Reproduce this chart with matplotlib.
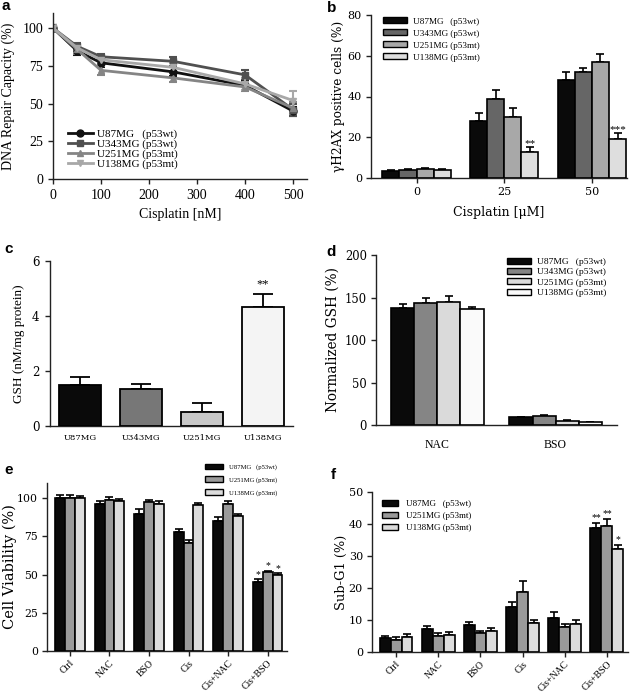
import matplotlib
matplotlib.use("Agg")
import matplotlib.pyplot as plt
import numpy as np

W, H = 631, 699

# ---------------- data ----------------
# panel a
a_x = [0, 50, 100, 250, 400, 500]
a_u87 = [100, 85, 77, 71, 62, 45]
a_u87_err = [2, 3, 3, 3, 3, 3]
a_u343 = [100, 88, 81, 78, 69, 46]
a_u343_err = [2, 2, 2, 3, 3, 4]
a_u251 = [100, 86, 72, 67, 61, 47]
a_u251_err = [2, 3, 3, 3, 3, 4]
a_u138 = [100, 87, 79, 74, 63, 52]
a_u138_err = [2, 2, 3, 3, 4, 6]
a_labels = ["U87MG   (p53wt)", "U343MG (p53wt)", "U251MG (p53mt)", "U138MG (p53mt)"]

# panel b
b_groups = ["0", "25", "50"]
b_u87 = [3.5, 28, 48]
b_u87_err = [0.5, 4, 4]
b_u343 = [4, 39, 52]
b_u343_err = [0.5, 4, 2]
b_u251 = [4.5, 30, 57]
b_u251_err = [0.5, 4.5, 4]
b_u138 = [4, 13, 19]
b_u138_err = [0.5, 2, 3.2]
b_stars = ["", "**", "***"]

# panel c
c_cells = ["U87MG", "U343MG", "U251MG", "U138MG"]
c_gsh = [1.5, 1.35, 0.5, 4.33]
c_err = [0.3, 0.18, 0.32, 0.47]
c_stars = ["", "", "", "**"]

# panel d
d_groups = ["NAC", "BSO"]
d_u87 = [138, 9.5]
d_u87_err = [4, 0.5]
d_u343 = [143, 11]
d_u343_err = [7, 0.6]
d_u251 = [145, 5]
d_u251_err = [6.5, 1]
d_u138 = [137, 3.5]
d_u138_err = [1.5, 0.3]

# panel e
ef_treat = ["Ctrl", "NAC", "BSO", "Cis", "Cis+NAC", "Cis+BSO"]
ef_labels = ["U87MG   (p53wt)", "U251MG (p53mt)", "U138MG (p53mt)"]
e_u87 = [100, 96, 90, 78, 85, 45.5]
e_u87_err = [2, 2.5, 3, 2, 3, 1.5]
e_u251 = [100, 99, 97.5, 71, 96, 51.5]
e_u251_err = [2, 2, 1.5, 2, 2, 1]
e_u138 = [100, 98.5, 96.5, 95.5, 88.5, 49.5]
e_u138_err = [1.5, 1, 1.5, 1.5, 1.5, 1.5]
e_stars = [["", "", "", "", "", "*"]] * 3

# panel f
f_u87 = [4.3, 7.3, 8.3, 14.1, 10.5, 38.7]
f_u87_err = [0.6, 0.8, 1.0, 1.4, 2.0, 1.6]
f_u251 = [3.8, 5.0, 5.8, 18.9, 7.9, 39.5]
f_u251_err = [0.8, 0.8, 0.8, 3.2, 0.8, 2.0]
f_u138 = [4.8, 5.4, 6.6, 9.1, 8.6, 32.3]
f_u138_err = [0.8, 0.8, 0.8, 0.8, 1.4, 1.2]
f_stars = [["", "", "", "", "", "**"], ["", "", "", "", "", "**"], ["", "", "", "", "", "*"]]

SERIF_A = "Liberation Serif"
SERIF = "DejaVu Serif"

fig = plt.figure(figsize=(W / 100, H / 100), dpi=100)


def add_ax(l, r, t, b):
    return fig.add_axes([l / W, (H - b) / H, (r - l) / W, (b - t) / H])


def style(ax, fam, tsize, pad=2):
    for s in ["top", "right"]:
        ax.spines[s].set_visible(False)
    for s in ["left", "bottom"]:
        ax.spines[s].set_linewidth(1.0)
        ax.spines[s].set_color("#222222")
    ax.tick_params(direction="out", length=3.5, width=1.0, color="#222222",
                   labelsize=tsize, pad=pad)
    for lab in ax.get_xticklabels() + ax.get_yticklabels():
        lab.set_family(fam)


def panel_letter(x, y, s):
    fig.text(x / W, 1 - y / H, s, fontsize=11, fontweight="bold",
             family="Liberation Sans", va="center", ha="left")


def grouped(ax, series, errs, colors, width, ncat, stars=None, star_fs=7,
            star_off=1.0, lw=1.2):
    n = len(series)
    xs = np.arange(ncat)
    for i, (vals, er, c) in enumerate(zip(series, errs, colors)):
        pos = xs + (i - (n - 1) / 2) * width
        ax.bar(pos, vals, width=width, color=c, edgecolor="black",
               linewidth=lw, zorder=3)
        ax.errorbar(pos, vals, yerr=[np.zeros(len(vals)), er], fmt="none",
                    ecolor="black", elinewidth=lw, capsize=3, capthick=lw,
                    zorder=2)
        if stars is not None:
            for p, v, e, s in zip(pos, vals, er, stars[i]):
                if s:
                    ax.text(p, v + e + star_off, s, ha="center", va="bottom",
                            fontsize=star_fs, family=SERIF_A)
    return xs


# ---------------- panel a ----------------
ax = add_ax(53, 307, 13, 179)
a_series = [(a_u87, a_u87_err, "#111111", "o"),
            (a_u343, a_u343_err, "#505050", "s"),
            (a_u251, a_u251_err, "#858585", "^"),
            (a_u138, a_u138_err, "#a8a8a8", "v")]
a_handles = []
for (ys, er, c, m), lab in zip(a_series, a_labels):
    cont = ax.errorbar(a_x, ys, yerr=er, color=c, marker=m, markersize=5,
                       linewidth=2, elinewidth=1.5, capsize=3, capthick=1.5)
    a_handles.append(cont[0])
ax.set_xlim(0, 529)
ax.set_ylim(0, 110)
ax.set_xticks([0, 100, 200, 300, 400, 500])
ax.set_yticks([0, 25, 50, 75, 100])
style(ax, SERIF_A, 10, pad=3.5)
ax.set_xlabel("Cisplatin [nM]", family=SERIF_A, fontsize=10)
ax.set_ylabel("DNA Repair Capacity (%)", family=SERIF_A, fontsize=10)
ax.xaxis.set_label_coords(0.5, -0.175)
ax.yaxis.set_label_coords(-0.15, 0.5)
ax.legend(a_handles, a_labels, loc="upper left", bbox_to_anchor=(0.06, 0.30),
          frameon=False, prop={"family": SERIF_A, "size": 8}, handlelength=2.2,
          labelspacing=0.0, handletextpad=0.4, borderpad=0, borderaxespad=0)
panel_letter(2, 6, "a")

# ---------------- panel b ----------------
ax = add_ax(371, 627, 15, 178)
b_cols = ["#0a0a0a", "#666666", "#a8a8a8", "#dedede"]
xs = grouped(ax, [b_u87, b_u343, b_u251, b_u138],
             [b_u87_err, b_u343_err, b_u251_err, b_u138_err], b_cols, 0.195, 3,
             stars=[[""] * 3, [""] * 3, [""] * 3, b_stars], star_fs=8,
             star_off=-0.5)
ax.set_xlim(-0.52, 2.4)
ax.set_ylim(0, 80)
ax.set_xticks(xs)
ax.set_xticklabels(b_groups)
ax.set_yticks([0, 20, 40, 60, 80])
style(ax, SERIF, 8, pad=3)
ax.set_xlabel("Cisplatin [\u03bcM]", family=SERIF, fontsize=9)
ax.set_ylabel("\u03b3H2AX positive cells (%)", family=SERIF, fontsize=8.7)
ax.xaxis.set_label_coords(0.5, -0.17)
ax.yaxis.set_label_coords(-0.10, 0.5)
handles = [plt.Rectangle((0, 0), 1, 1, facecolor=c, edgecolor="black", lw=1.0)
           for c in b_cols]
ax.legend(handles, a_labels, loc="upper left", bbox_to_anchor=(0.045, 0.985),
          frameon=False, prop={"family": SERIF_A, "size": 6.6},
          handlelength=2.7, handleheight=0.6, labelspacing=0.42,
          handletextpad=0.6, borderpad=0, borderaxespad=0)
panel_letter(327, 8, "b")

# ---------------- panel c ----------------
ax = add_ax(50, 293, 261, 426)
c_cols = ["#0a0a0a", "#777777", "#c8c8c8", "#f4f4f4"]
xs = np.arange(len(c_cells))
ax.bar(xs, c_gsh, width=0.69, color=c_cols, edgecolor="black", linewidth=1.3,
       zorder=3)
ax.errorbar(xs, c_gsh, yerr=[np.zeros(len(c_gsh)), c_err], fmt="none",
            ecolor="black", elinewidth=1.3, capsize=7, capthick=1.3, zorder=2)
for x, v, e, s in zip(xs, c_gsh, c_err, c_stars):
    if s:
        ax.text(x, v + e + 0.12, s, ha="center", va="bottom", fontsize=9,
                family=SERIF_A)
ax.set_xlim(-0.49, 3.49)
ax.set_ylim(0, 6)
ax.set_xticks(xs)
ax.set_xticklabels(c_cells)
ax.set_yticks([0, 2, 4, 6])
style(ax, SERIF, 8.5, pad=4)
ax.tick_params(axis="x", length=0, labelsize=6, pad=6)
ax.set_ylabel("GSH (nM/mg protein)", family=SERIF_A, fontsize=9.5)
ax.yaxis.set_label_coords(-0.103, 0.5)
panel_letter(4, 249, "c")

# ---------------- panel d ----------------
ax = add_ax(376, 617, 255, 425)
d_cols = ["#0a0a0a", "#858585", "#dadada", "#fafafa"]
xs = grouped(ax, [d_u87, d_u343, d_u251, d_u138],
             [d_u87_err, d_u343_err, d_u251_err, d_u138_err], d_cols, 0.195, 2)
ax.set_xlim(-0.52, 1.52)
ax.set_ylim(0, 200)
ax.set_xticks(xs)
ax.set_xticklabels(d_groups)
ax.set_yticks([0, 50, 100, 150, 200])
style(ax, SERIF, 8.3, pad=3)
ax.tick_params(axis="x", length=0, labelsize=8.5, pad=10)
for lab in ax.get_xticklabels():
    lab.set_family(SERIF_A)
ax.set_ylabel("Normalized GSH (%)", family=SERIF, fontsize=9.8)
ax.yaxis.set_label_coords(-0.149, 0.5)
handles = [plt.Rectangle((0, 0), 1, 1, facecolor=c, edgecolor="black", lw=1.0)
           for c in d_cols]
ax.legend(handles, a_labels, loc="upper left", bbox_to_anchor=(0.545, 0.985),
          frameon=False, prop={"family": SERIF_A, "size": 6.8},
          handlelength=2.5, handleheight=0.6, labelspacing=0.22,
          handletextpad=0.6, borderpad=0, borderaxespad=0)
panel_letter(326, 252, "d")

# ---------------- panel e ----------------
ax = add_ax(47, 287, 483, 651)
ef_cols = ["#0a0a0a", "#9a9a9a", "#dcdcdc"]
xs = grouped(ax, [e_u87, e_u251, e_u138], [e_u87_err, e_u251_err, e_u138_err],
             ef_cols, 0.25, 6, stars=e_stars, star_fs=7, star_off=0.3)
ax.set_xlim(-0.58, 5.49)
ax.set_ylim(0, 110)
ax.set_xticks(xs)
ax.set_xticklabels(ef_treat, rotation=45, ha="right", rotation_mode="anchor")
ax.set_yticks([0, 25, 50, 75, 100])
style(ax, SERIF, 7.8, pad=3)
ax.tick_params(axis="x", labelsize=7, pad=2)
for lab in ax.get_xticklabels():
    lab.set_family(SERIF_A)
ax.set_ylabel("Cell Viability (%)", family=SERIF, fontsize=10.5)
ax.yaxis.set_label_coords(-0.125, 0.5)
handles = [plt.Rectangle((0, 0), 1, 1, facecolor=c, edgecolor="black", lw=1.0)
           for c in ef_cols]
ax.legend(handles, ef_labels, loc="upper left", bbox_to_anchor=(0.66, 1.115),
          frameon=False, prop={"family": SERIF_A, "size": 4.8},
          handlelength=2.7, handleheight=0.9, labelspacing=0.95,
          handletextpad=0.8, borderpad=0, borderaxespad=0)
panel_letter(4, 470, "e")

# ---------------- panel f ----------------
ax = add_ax(372, 628, 492, 652)
xs = grouped(ax, [f_u87, f_u251, f_u138], [f_u87_err, f_u251_err, f_u138_err],
             ef_cols, 0.26, 6, stars=f_stars, star_fs=7, star_off=0.2)
ax.set_xlim(-0.57, 5.5)
ax.set_ylim(0, 50)
ax.set_xticks(xs)
ax.set_xticklabels(ef_treat, rotation=45, ha="right", rotation_mode="anchor")
ax.set_yticks([0, 10, 20, 30, 40, 50])
style(ax, SERIF, 8, pad=3)
ax.tick_params(axis="x", labelsize=7, pad=2)
for lab in ax.get_xticklabels():
    lab.set_family(SERIF_A)
ax.set_ylabel("Sub-G1 (%)", family=SERIF, fontsize=9.4)
ax.yaxis.set_label_coords(-0.094, 0.5)
ax.legend(handles, ef_labels, loc="upper left", bbox_to_anchor=(0.04, 0.95),
          frameon=False, prop={"family": SERIF_A, "size": 6.5},
          handlelength=1.8, handleheight=0.7, labelspacing=0.4,
          handletextpad=0.8, borderpad=0, borderaxespad=0)
panel_letter(331, 475, "f")

fig.savefig("out.png", dpi=100)
